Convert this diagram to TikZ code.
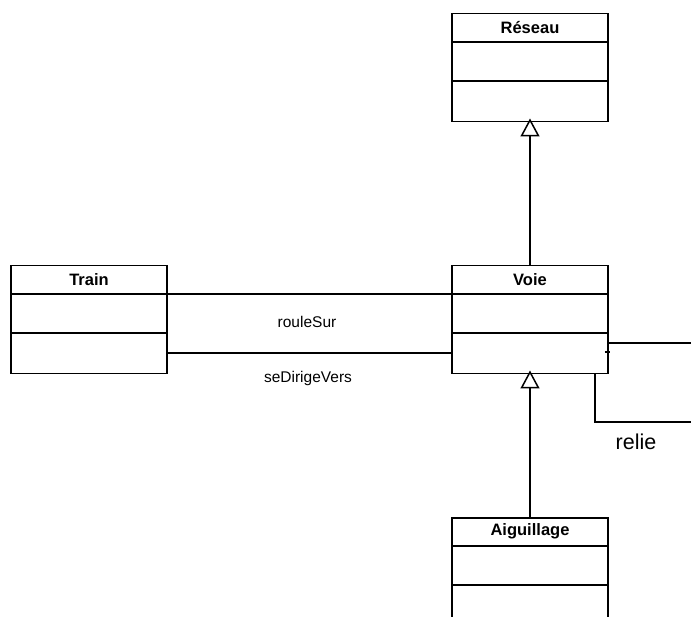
\documentclass[tikz,border=0pt]{standalone}
\usepackage{fontspec}
\setmainfont{Liberation Sans}
\usetikzlibrary{arrows.meta}

\tikzset{
  classbox/.style={draw, line width=1.5pt, minimum width=156pt, minimum height=108pt, anchor=north, inner sep=0pt},
  classtitle/.style={font=\bfseries\fontsize{16.5}{19}\selectfont, inner sep=0pt},
  assoc/.style={line width=1.5pt},
  inherit/.style={line width=1.5pt, shorten >=-4pt, -{Triangle[open, length=18pt, width=19pt, line width=1.5pt]}},
  role/.style={font=\fontsize{15.5}{18}\selectfont, inner sep=0pt}
}

\begin{document}
\begin{tikzpicture}[x=1pt, y=-1pt]

\useasboundingbox (0,0) rectangle (691,617);
\clip (0,0) rectangle (691,617);

% The classes
\node[classbox] (reseau) at (530,13) {};
\node[classbox] (train) at (89,265) {};
\node[classbox] (voie) at (530,265) {};
\node[classbox] (aiguillage) at (530,517) {};

\node[classtitle] at ([yshift=-14.5pt]reseau.north) {Réseau};
\node[classtitle] at ([yshift=-14.5pt]train.north) {Train};
\node[classtitle] at ([yshift=-14.5pt]voie.north) {Voie};
\node[classtitle] at ([yshift=-14.5pt]aiguillage.north) {Aiguillage};

% The compartments
\foreach \c in {reseau,train,voie,aiguillage} {
  \draw[assoc] ([yshift=-29pt]\c.north west) -- ([yshift=-29pt]\c.north east);
  \draw[assoc] ([yshift=-68pt]\c.north west) -- ([yshift=-68pt]\c.north east);
}

% Inheritance
\draw[inherit] (voie.north) -- (reseau.south);
\draw[inherit] (aiguillage.north) -- (voie.south);

% Train and Voie
\draw[assoc] ([yshift=-29pt]train.north east) -- ([yshift=-29pt]voie.north west);
\draw[assoc] ([yshift=-88pt]train.north east) -- ([yshift=-88pt]voie.north west);
\node[role] (roulesur) at (307,322) {rouleSur};
\node[role] (sedirige) at (308,378) {seDirigeVers};

% Voie with itself
\coordinate (relieA) at (691,343);
\coordinate (relieB) at (691,422);
\draw[assoc] ([yshift=-78pt]voie.north east) -- (relieA);
\draw[assoc] ([xshift=-14pt]voie.south east) |- (relieB);
\draw[line width=1.2pt] ([xshift=-4pt, yshift=-87pt]voie.north east) -- ([xshift=1pt, yshift=-87pt]voie.north east);
\node[font=\fontsize{21.5}{25}\selectfont, inner sep=0pt] (relie) at (636,442) {relie};

\end{tikzpicture}
\end{document}
